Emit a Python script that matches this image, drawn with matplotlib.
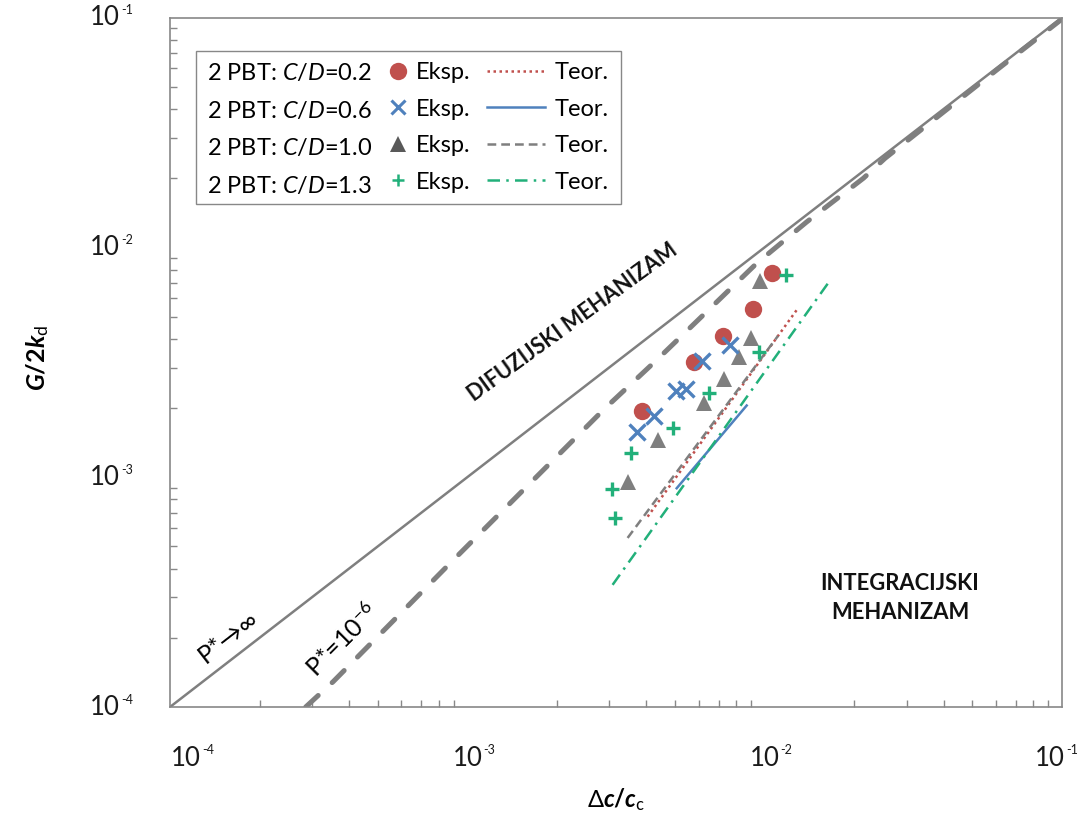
import matplotlib
matplotlib.use("Agg")
import matplotlib.pyplot as plt
from matplotlib.lines import Line2D
from matplotlib.patches import Rectangle
from matplotlib.ticker import LogLocator, NullFormatter

# ---------------- data ----------------
cd02_x = [0.00386, 0.00580, 0.00722, 0.00911, 0.01060]
cd02_y = [0.00195, 0.00316, 0.00412, 0.00538, 0.00776]
cd06_x = [0.00371, 0.00426, 0.00504, 0.00544, 0.00616, 0.00765]
cd06_y = [0.00158, 0.00185, 0.00236, 0.00241, 0.00320, 0.00376]
cd10_x = [0.00346, 0.00439, 0.00623, 0.00728, 0.00817, 0.00897, 0.00964]
cd10_y = [0.000956, 0.00145, 0.00211, 0.00267, 0.00332, 0.00402, 0.00716]
cd13_x = [0.00313, 0.00307, 0.00356, 0.00491, 0.00648, 0.00959, 0.01179]
cd13_y = [0.000663, 0.000886, 0.00127, 0.00163, 0.00233, 0.00352, 0.00759]

teor02_x = [0.00404, 0.01282]
teor02_y = [0.000673, 0.00534]
teor06_x = [0.00506, 0.00870]
teor06_y = [0.000895, 0.00205]
teor10_x = [0.00346, 0.01109]
teor10_y = [0.000544, 0.00412]
teor13_x = [0.00308, 0.01636]
teor13_y = [0.000340, 0.00700]

pinf_x = [1e-4, 1e-1]
pinf_y = [1e-4, 1e-1]
p6_x = [2.86e-4, 3.54e-4, 8.97e-4, 2.90e-3, 4.34e-3, 6.22e-3, 9.41e-3,
        1.385e-2, 2.15e-2, 2.54e-2, 6.04e-2, 1.0e-1]
p6_y = [1.0e-4, 1.29e-4, 4.36e-4, 1.99e-3, 3.24e-3, 5.08e-3, 8.53e-3,
        1.29e-2, 2.0e-2, 2.44e-2, 5.92e-2, 0.0985]

legend_texts = ["2 PBT: $\\mathit{C/D}$=0.2", "2 PBT: $\\mathit{C/D}$=0.6",
                "2 PBT: $\\mathit{C/D}$=1.0", "2 PBT: $\\mathit{C/D}$=1.3"]
x_ticks = [1e-4, 1e-3, 1e-2, 1e-1]
y_ticks = [1e-4, 1e-3, 1e-2, 1e-1]
tick_exps = ["-4", "-3", "-2", "-1"]

# ---------------- style ----------------
RED = "#C0504D"
BLUE = "#4F81BD"
GRAY = "#7F7F7F"
DGRAY = "#595959"
GREEN = "#22B07A"
AXC = "#888888"

plt.rcParams['font.family'] = ['Lato', 'DejaVu Sans']
plt.rcParams['mathtext.fontset'] = 'custom'
plt.rcParams['mathtext.rm'] = 'Lato'
plt.rcParams['mathtext.it'] = 'Lato:italic'
plt.rcParams['mathtext.bf'] = 'Lato:bold'
plt.rcParams['mathtext.bfit'] = 'Lato:bold:italic'
plt.rcParams['mathtext.sf'] = 'Lato'
plt.rcParams['mathtext.fallback'] = 'stixsans'

W, H = 1077, 823
fig = plt.figure(figsize=(W / 100, H / 100), dpi=100)
L, R, T, B = 170, 1062, 17.5, 707
ax = fig.add_axes([L / W, 1 - B / H, (R - L) / W, (B - T) / H])
ax.set_xscale('log')
ax.set_yscale('log')
ax.set_xlim(1e-4, 1e-1)
ax.set_ylim(1e-4, 1e-1)

for s in ax.spines.values():
    s.set_color(AXC)
    s.set_linewidth(1.2)

ax.xaxis.set_minor_locator(LogLocator(base=10, subs=range(2, 10)))
ax.yaxis.set_minor_locator(LogLocator(base=10, subs=range(2, 10)))
ax.xaxis.set_minor_formatter(NullFormatter())
ax.yaxis.set_minor_formatter(NullFormatter())
ax.tick_params(which='both', direction='in', top=False, right=False,
               labelbottom=False, labelleft=False, color=AXC)
ax.tick_params(which='major', length=0)
ax.tick_params(which='minor', length=5, width=1)

# boundary lines
ax.plot(pinf_x, pinf_y, color=GRAY, lw=1.8, solid_capstyle='butt', zorder=2)
ax.plot(p6_x, p6_y, color=GRAY, lw=3.6, dashes=(3.4, 3.8),
        dash_capstyle='round', zorder=2)

# theoretical lines
ax.plot(teor02_x, teor02_y, color=RED, lw=1.8, ls=(0, (1, 1.4)), zorder=3)
ax.plot(teor06_x, teor06_y, color=BLUE, lw=1.8, zorder=3)
ax.plot(teor10_x, teor10_y, color=GRAY, lw=1.8, ls=(0, (3.5, 2)), zorder=3)
ax.plot(teor13_x, teor13_y, color=GREEN, lw=1.8, ls=(0, (5, 2.5, 1, 2.5)), zorder=3)

# experimental points
ax.plot(cd02_x, cd02_y, 'o', color=RED, ms=12.5, mew=0, zorder=4)
ax.plot(cd06_x, cd06_y, 'x', color=BLUE, ms=11, mew=2.4, zorder=5)
ax.plot(cd10_x, cd10_y, '^', color=GRAY, ms=11, mew=0, zorder=4)
ax.plot(cd13_x, cd13_y, '+', color=GREEN, ms=10, mew=2.4, zorder=5)

# tick labels
TFS = 18.5
SFS = 9
x_dx = [16, 0, 0, -12]
for v, e, dx in zip(x_ticks, tick_exps, x_dx):
    t = ax.annotate("10", xy=(v, 0), xycoords=('data', 'axes fraction'),
                    xytext=(dx, -51), textcoords='offset pixels', ha='center',
                    va='center', fontsize=TFS, color='#1a1a1a',
                    annotation_clip=False)
    ax.annotate(e, xy=(1, 1), xycoords=t, xytext=(1, 1),
                textcoords='offset pixels', ha='left', va='top',
                fontsize=SFS, color='#1a1a1a', annotation_clip=False)
for v, e in zip(y_ticks, tick_exps):
    t = ax.annotate("10", xy=(0, v), xycoords=('axes fraction', 'data'),
                    xytext=(-50, 0), textcoords='offset pixels', ha='right',
                    va='center', fontsize=TFS, color='#1a1a1a',
                    annotation_clip=False)
    ax.annotate(e, xy=(1, 1), xycoords=t, xytext=(1, 1),
                textcoords='offset pixels', ha='left', va='top',
                fontsize=SFS, color='#1a1a1a', annotation_clip=False)

# axis titles
fig.text(38 / W, 1 - 358 / H, r'$\mathbfit{G}\mathbf{/2}\mathbfit{k}_{\mathrm{d}}$',
         rotation=90, ha='center', va='center', fontsize=18)
fig.text(616 / W, 1 - 800 / H, r'$\Delta\mathbfit{c}\mathbf{/}\mathbfit{c}_{\mathrm{c}}$',
         ha='center', va='center', fontsize=17)

# annotations
ax.text(1.567e-4, 2.02e-4, "P*→∞", rotation=37.7, rotation_mode='anchor',
        ha='center', va='center', fontsize=18, family=['Lato', 'DejaVu Sans'])
ax.text(3.79e-4, 1.96e-4, "P*=10$^{-6}$", rotation=45, rotation_mode='anchor',
        ha='center', va='center', fontsize=18)
ax.text(2.268e-3, 4.71e-3, "DIFUZIJSKI MEHANIZAM", rotation=36,
        rotation_mode='anchor', ha='center', va='center', fontsize=15.5,
        fontweight='bold', color='#111111')
ax.text(2.852e-2, 2.98e-4, "INTEGRACIJSKI\nMEHANIZAM", ha='center',
        va='center', fontsize=15.8, fontweight='bold', color='#111111',
        linespacing=1.5)

# legend (frame + three columns)
fig.patches.append(Rectangle((196 / W, 1 - 204 / H), 425 / W, 153 / H,
                             transform=fig.transFigure, fill=True,
                             facecolor='white', edgecolor=AXC, lw=1.0,
                             zorder=10))
LFS = 17
top = 1 - 62 / H
blank = [Line2D([], [], ls='none') for _ in range(4)]
mk = [Line2D([], [], ls='none', marker='o', color=RED, ms=12.5, mew=0),
      Line2D([], [], ls='none', marker='x', color=BLUE, ms=10, mew=2.2),
      Line2D([], [], ls='none', marker='^', color=DGRAY, ms=11, mew=0),
      Line2D([], [], ls='none', marker='+', color=GREEN, ms=9, mew=1.8)]
ln = [Line2D([], [], color=RED, lw=1.8, ls=(0, (1, 1.4))),
      Line2D([], [], color=BLUE, lw=1.8),
      Line2D([], [], color=GRAY, lw=1.8, ls=(0, (3.5, 2))),
      Line2D([], [], color=GREEN, lw=1.8, ls=(0, (5, 2.5, 1, 2.5)))]
common = dict(loc='upper left', bbox_transform=fig.transFigure, frameon=False,
              borderpad=0, borderaxespad=0, fontsize=LFS, labelspacing=0.66)
l1 = fig.legend(blank, legend_texts, bbox_to_anchor=(207 / W, top),
                handlelength=0, handletextpad=0, **common)
l2 = fig.legend(mk, ["Eksp."] * 4, bbox_to_anchor=(388 / W, top),
                handlelength=0.88, handletextpad=0.3, **common)
l3 = fig.legend(ln, ["Teor."] * 4, bbox_to_anchor=(487 / W, top),
                handlelength=2.46, handletextpad=0.42, **common)
for lg in (l1, l2, l3):
    lg.set_zorder(11)

fig.savefig("out.png", dpi=100)
